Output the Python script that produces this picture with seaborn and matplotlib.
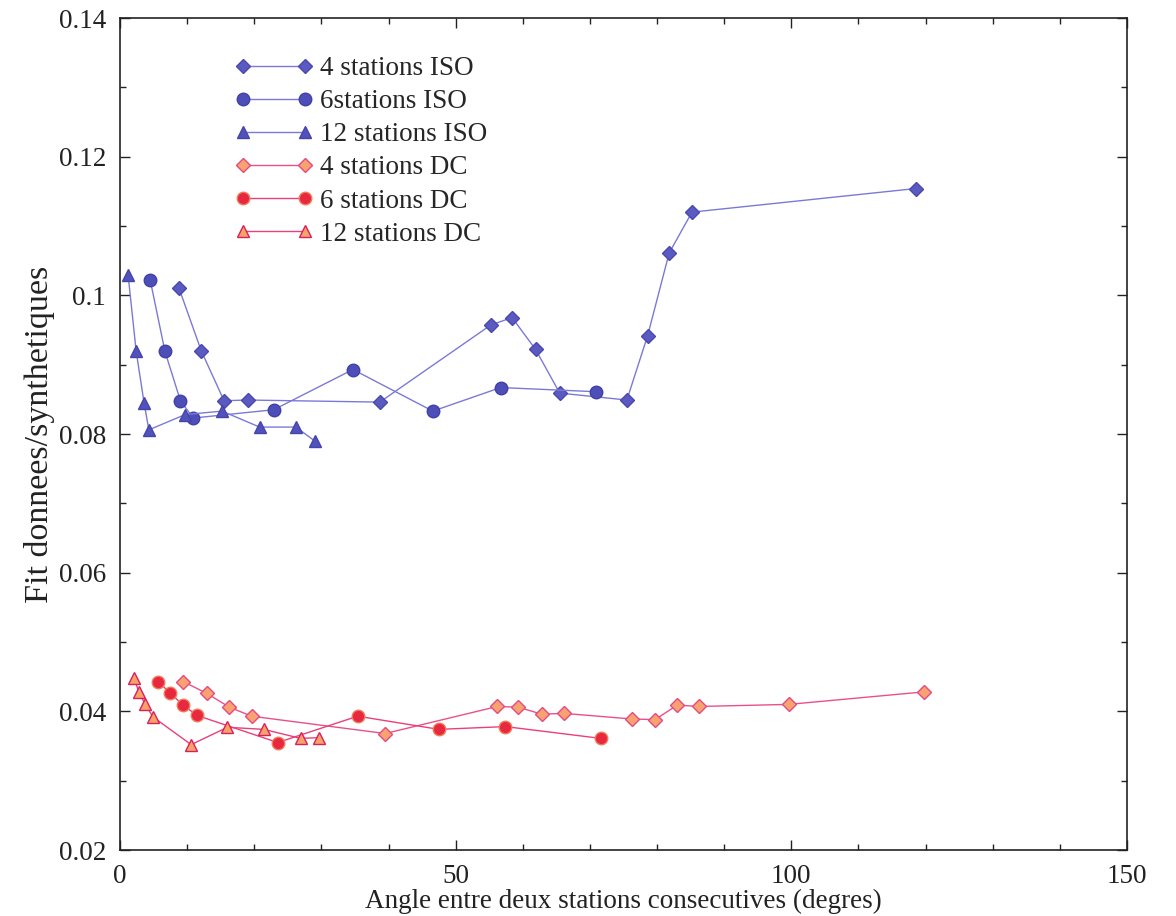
import numpy as np
import pandas as pd
import matplotlib
matplotlib.use("Agg")
import matplotlib.pyplot as plt
from matplotlib.ticker import MultipleLocator, FuncFormatter
import seaborn as sns

# angle (degres) / fit values
iso4_x = [8.8, 12.1, 15.5, 19.0, 38.7, 55.2, 58.4, 61.9, 65.5, 75.5, 78.6, 81.8, 85.2, 118.5]
iso4_y = [0.1010, 0.0920, 0.0848, 0.0849, 0.0846, 0.0957, 0.0968, 0.0922, 0.0859,
          0.0849, 0.0942, 0.1061, 0.1120, 0.1154]

iso6_x = [4.5, 6.7, 9.0, 10.9, 22.9, 34.7, 46.6, 56.7, 70.9]
iso6_y = [0.1022, 0.0919, 0.0848, 0.0823, 0.0835, 0.0893, 0.0833, 0.0867, 0.0861]

iso12_x = [1.2, 2.4, 3.6, 4.3, 9.7, 15.2, 20.8, 26.2, 29.0]
iso12_y = [0.1030, 0.0920, 0.0844, 0.0806, 0.0828, 0.0833, 0.0810, 0.0810, 0.0790]

dc4_x = [9.4, 12.9, 16.3, 19.6, 39.5, 56.2, 59.3, 62.8, 66.2, 76.2, 79.7, 83.0, 86.2, 99.6, 119.7]
dc4_y = [0.0443, 0.0426, 0.0406, 0.0393, 0.0368, 0.0407, 0.0406, 0.0396, 0.0397,
         0.0389, 0.0388, 0.0409, 0.0407, 0.0410, 0.0428]

dc6_x = [5.7, 7.5, 9.4, 11.5, 23.5, 35.4, 47.5, 57.4, 71.6]
dc6_y = [0.0443, 0.0426, 0.0409, 0.0394, 0.0355, 0.0393, 0.0374, 0.0378, 0.0361]

dc12_x = [2.1, 2.8, 3.7, 4.9, 10.6, 16.0, 21.4, 26.9, 29.6]
dc12_y = [0.0448, 0.0428, 0.0411, 0.0392, 0.0352, 0.0377, 0.0374, 0.0361, 0.0362]

labels = ["4 stations ISO", "6stations ISO", "12 stations ISO",
          "4 stations DC", "6 stations DC", "12 stations DC"]

series = [
    (iso4_x, iso4_y, "D", 7, "#7a7ad6", "#5a5ac0", "#4848b0"),
    (iso6_x, iso6_y, "o", 9, "#7a7ad6", "#4e4eb8", "#4040a8"),
    (iso12_x, iso12_y, "^", 9, "#7a7ad6", "#5252bc", "#4444aa"),
    (dc4_x, dc4_y, "D", 7, "#e9508a", "#f8a272", "#e44a7e"),
    (dc6_x, dc6_y, "o", 9, "#e9407a", "#e8283e", "#f07a58"),
    (dc12_x, dc12_y, "^", 9, "#e9407a", "#f7a268", "#d8205a"),
]

sns.set_style("ticks")
plt.rcParams["font.family"] = ["Liberation Serif", "DejaVu Serif"]

fig = plt.figure(figsize=(11.76, 9.16), dpi=100)
ax = fig.add_axes([120 / 1176, 1 - 850 / 916, (1127 - 120) / 1176, (850 - 18) / 916])

for (xs, ys, mk, ms, lc, fc, ec), lab in zip(series, labels):
    df = pd.DataFrame({"x": xs, "y": ys})
    sns.lineplot(data=df, x="x", y="y", sort=False, estimator=None, ax=ax,
                 color=lc, linewidth=1.0, marker=mk, markersize=ms,
                 markerfacecolor=fc, markeredgecolor=ec, markeredgewidth=1.0,
                 label=lab)

ax.set_xlim(0, 150)
ax.set_ylim(0.02, 0.14)
ax.xaxis.set_major_locator(MultipleLocator(50))
ax.xaxis.set_minor_locator(MultipleLocator(10))
ax.yaxis.set_major_locator(MultipleLocator(0.02))
ax.yaxis.set_minor_locator(MultipleLocator(0.01))
ax.yaxis.set_major_formatter(FuncFormatter(lambda v, p: "%g" % round(v, 4)))
ax.tick_params(which="both", direction="in", top=True, right=True,
               labelsize=19.5, colors="#222222")
ax.tick_params(which="major", length=7, width=1.0, pad=10)
ax.tick_params(which="minor", length=4, width=1.0)
for sp in ax.spines.values():
    sp.set_visible(True)
    sp.set_linewidth(1.2)
    sp.set_color("#222222")

ax.set_xlabel("Angle entre deux stations consecutives (degres)", fontsize=19.5,
              color="#222222", labelpad=0)
ax.set_ylabel("Fit donnees/synthetiques", fontsize=24.5, color="#222222", labelpad=3)

ax.legend(loc="upper left", bbox_to_anchor=(235 / 1176, 1 - 56 / 916),
          bbox_transform=fig.transFigure, frameon=False, numpoints=2,
          fontsize=19.5, handlelength=2.88, handletextpad=0.26, labelspacing=0.3,
          borderpad=0, borderaxespad=0)

fig.savefig("out.png", dpi=100)
